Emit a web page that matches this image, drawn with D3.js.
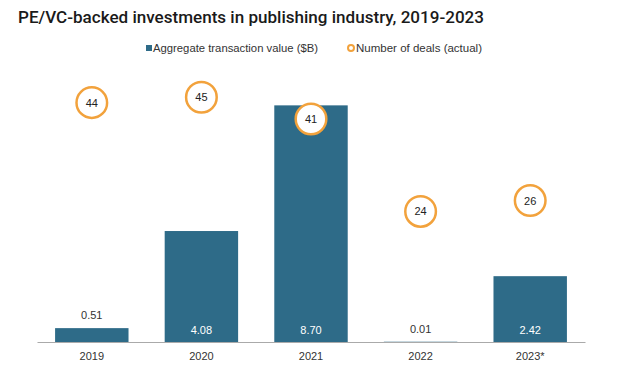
<!DOCTYPE html>
<html>
<head>
<meta charset="utf-8">
<script src="https://cdn.jsdelivr.net/npm/d3@7"></script>
<style>
body { margin: 0; background: #fff; }
text { font-family: "Liberation Sans", Arial, sans-serif; }
</style>
</head>
<body>
<script>
var years = ["2019", "2020", "2021", "2022", "2023*"];
var values = [0.51, 4.08, 8.70, 0.01, 2.42];
var deals = [44, 45, 41, 24, 26];

var width = 629;
var height = 377;
var barColor = "#2E6B88";
var dealColor = "#F2A23C";

var svg = d3.select("body")
.append("svg")
.attr("width", width)
.attr("height", height);

var plot = {left: 37, right: 585, top: 70, bottom: 342};

var xScale = d3.scaleBand()
.domain(years)
.range([plot.left, plot.right])
.paddingInner(0.33)
.paddingOuter(0.165);

var yScale = d3.scaleLinear()
.domain([0, 10])
.range([plot.bottom, plot.top]);

var dealScale = d3.scaleLinear()
.domain([0, 50])
.range([plot.bottom, plot.top]);

// title
svg.append("text")
.attr("x", 18)
.attr("y", 23)
.attr("font-size", "16px")
.attr("font-weight", 500)
.style("font-family", "Roboto, 'Liberation Sans', Arial, sans-serif")
.attr("fill", "#1a1a1a")
.attr("textLength", 466)
.attr("lengthAdjust", "spacingAndGlyphs")
.text("PE/VC-backed investments in publishing industry, 2019-2023");

// legend
var legend = svg.append("g").attr("font-size", "10.5px").attr("fill", "#333");
legend.append("rect")
.attr("x", 146).attr("y", 45)
.attr("width", 6).attr("height", 6)
.attr("fill", barColor);
legend.append("text")
.attr("x", 153).attr("y", 52)
.attr("fill", "#333")
.attr("textLength", 165)
.attr("lengthAdjust", "spacingAndGlyphs")
.text("Aggregate transaction value ($B)");
legend.append("circle")
.attr("cx", 351).attr("cy", 48).attr("r", 3)
.attr("fill", "#fff")
.attr("stroke", dealColor)
.attr("stroke-width", 2);
legend.append("text")
.attr("x", 356).attr("y", 52)
.attr("fill", "#333")
.attr("textLength", 126)
.attr("lengthAdjust", "spacingAndGlyphs")
.text("Number of deals (actual)");

// bars
svg.selectAll(".bar")
.data(values)
.enter()
.append("rect")
.attr("class", "bar")
.attr("fill", barColor)
.attr("x", function(d, i){ return xScale(years[i]); })
.attr("y", function(d){ return yScale(d); })
.attr("width", xScale.bandwidth())
.attr("height", function(d){ return plot.bottom - yScale(d); });

// bar labels
svg.selectAll(".barlabel")
.data(values)
.enter()
.append("text")
.attr("class", "barlabel")
.attr("font-size", "11px")
.attr("text-anchor", "middle")
.attr("x", function(d, i){ return xScale(years[i]) + xScale.bandwidth() / 2; })
.attr("y", function(d){
	var h = plot.bottom - yScale(d);
	return h > 20 ? plot.bottom - 8 : yScale(d) - 9;
})
.attr("fill", function(d){
	return (plot.bottom - yScale(d)) > 20 ? "#fff" : "#333";
})
.text(function(d){ return d.toFixed(2); });

// x axis
var xAxis = d3.axisBottom(xScale).tickSize(0).tickPadding(10);
var gx = svg.append("g")
.attr("transform", "translate(0," + plot.bottom + ")")
.call(xAxis);
gx.select(".domain").attr("stroke", "#aaa").attr("stroke-width", 1.2);
gx.selectAll("text")
.attr("font-size", "11px")
.attr("fill", "#333")
.style("font-family", "'Liberation Sans', Arial, sans-serif");

// deal circles
var dots = svg.selectAll(".deal")
.data(deals)
.enter()
.append("g")
.attr("class", "deal")
.attr("transform", function(d, i){
	return "translate(" + (xScale(years[i]) + xScale.bandwidth() / 2) + "," + dealScale(d) + ")";
});
dots.append("circle")
.attr("r", 15.3)
.attr("fill", "#fff")
.attr("stroke", dealColor)
.attr("stroke-width", 2.5);
dots.append("text")
.attr("text-anchor", "middle")
.attr("dy", "0.36em")
.attr("font-size", "11px")
.attr("fill", "#222")
.text(function(d){ return d; });
</script>
</body>
</html>
